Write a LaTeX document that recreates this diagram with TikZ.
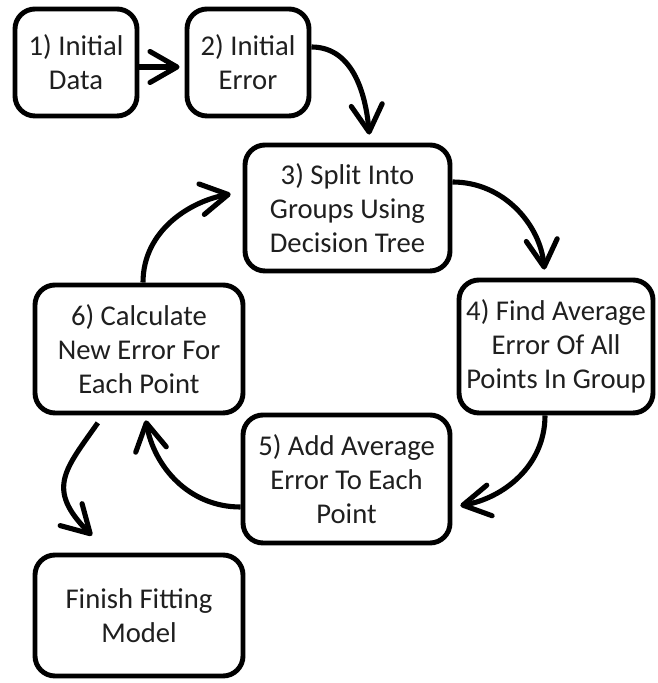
\documentclass[tikz,border=0pt]{standalone}
\usepackage{fontspec}
\setmainfont{Carlito}
\usepackage{tikz}
\usetikzlibrary{arrows.meta}

\begin{document}
\begin{tikzpicture}[
    stage/.style={draw, line width=2.8pt, rounded corners=0.4cm, align=center, fill=white, text=black!88, inner sep=0pt, font=\fontsize{16.3pt}{19.5pt}\selectfont},
    flow/.style={line width=2.9pt, -{Straight Barb[length=5.4mm,width=6.2mm,round]}, shorten >=0.16cm}
]
    \useasboundingbox (0,0) rectangle (13.14,13.66);
    \node[stage, minimum width=2.44cm, minimum height=2.14cm] (initdata) at (1.52,12.41) {1) Initial\\Data};
    \node[stage, minimum width=2.44cm, minimum height=2.14cm] (initerror) at (4.96,12.41) {2) Initial\\Error};
    \node[stage, minimum width=4.10cm, minimum height=2.52cm] (split) at (6.95,9.50) {3) Split Into\\Groups Using\\Decision Tree};
    \node[stage, minimum width=3.88cm, minimum height=2.66cm] (findavg) at (11.12,6.73) {4) Find Average\\Error Of All\\Points In Group};
    \node[stage, minimum width=4.14cm, minimum height=2.56cm] (addavg) at (6.93,4.08) {5) Add Average\\Error To Each\\Point};
    \node[stage, minimum width=4.16cm, minimum height=2.56cm] (calcerr) at (2.78,6.68) {6) Calculate\\New Error For\\Each Point};
    \node[stage, minimum width=4.16cm, minimum height=2.42cm] (finish) at (2.78,1.35) {Finish Fitting\\Model};

    \draw[flow, shorten >=0.1cm] ([yshift=-0.09cm]initdata.east) -- ([yshift=-0.09cm]initerror.west);
    \draw[flow] ([yshift=0.31cm]initerror.east) to[out=0,in=95] ([xshift=0.45cm]split.north);
    \draw[flow] ([yshift=0.52cm]split.east) to[out=0,in=95] ([xshift=-0.22cm]findavg.north);
    \draw[flow] ([xshift=-0.22cm]findavg.south) to[out=-90,in=10] ([yshift=-0.56cm]addavg.east);
    \draw[flow, shorten >=0.1cm] ([yshift=-0.56cm]addavg.west) to[out=180,in=-80] ([xshift=0.12cm]calcerr.south);
    \draw[flow, shorten >=0.24cm] ([xshift=0.08cm]calcerr.north) to[out=90,in=190] ([yshift=0.32cm]split.west);
    \draw[flow, shorten <=0.18cm, shorten >=0pt] ([xshift=-0.72cm]calcerr.south) to[out=-125,in=135,looseness=1.4] ([xshift=-0.94cm,yshift=0.34cm]finish.north);
\end{tikzpicture}
\end{document}
